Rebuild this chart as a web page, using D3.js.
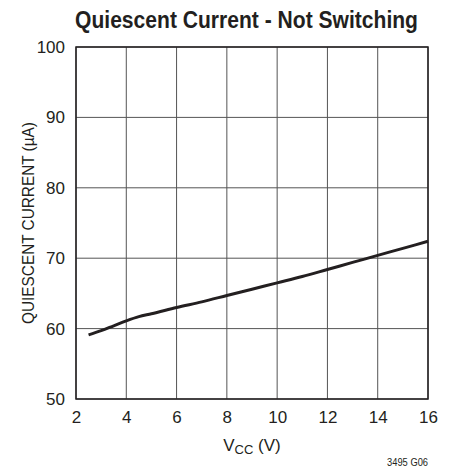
<!DOCTYPE html>
<html><head><meta charset="utf-8">
<script src="https://cdn.jsdelivr.net/npm/d3@7"></script>
<style>body{margin:0;background:#fff}svg{display:block}text{font-family:"Liberation Sans Narrow","Liberation Sans",Arial,sans-serif;fill:#231f20}</style>
</head><body>
<script>
const vcc = [2.5, 3, 3.5, 4, 4.5, 5, 6, 7, 8, 9, 10, 11, 12, 13, 14, 15, 16];
const iq  = [59.1, 59.7, 60.4, 61.1, 61.7, 62.1, 63.0, 63.8, 64.7, 65.6, 66.5, 67.4, 68.4, 69.4, 70.4, 71.4, 72.4];
const xTicks = [2, 4, 6, 8, 10, 12, 14, 16];
const yTicks = [50, 60, 70, 80, 90, 100];
const title = "Quiescent Current - Not Switching";
const yTitle = "QUIESCENT CURRENT (µA)";
const note = "3495 G06";

const W = 451, H = 470;
const m = {l: 76, r: 23, t: 47, b: 71};
const svg = d3.select("body").append("svg").attr("width", W).attr("height", H);
const x = d3.scaleLinear().domain([2, 16]).range([m.l, W - m.r]);
const y = d3.scaleLinear().domain([50, 100]).range([H - m.b, m.t]);

const g = svg.append("g");
// grid
g.selectAll(".vg").data(xTicks).join("line")
  .attr("x1", d => x(d)).attr("x2", d => x(d)).attr("y1", y(50)).attr("y2", y(100))
  .attr("stroke", "#555").attr("stroke-width", 1);
g.selectAll(".hg").data(yTicks).join("line")
  .attr("y1", d => y(d)).attr("y2", d => y(d)).attr("x1", x(2)).attr("x2", x(16))
  .attr("stroke", "#555").attr("stroke-width", 1);
// frame
g.append("rect").attr("x", x(2)).attr("y", y(100)).attr("width", x(16) - x(2)).attr("height", y(50) - y(100))
  .attr("fill", "none").attr("stroke", "#231f20").attr("stroke-width", 1.5);

// axes labels via d3 axes
const xa = svg.append("g").attr("transform", `translate(0,${y(50)})`)
  .call(d3.axisBottom(x).tickValues(xTicks).tickSize(0).tickPadding(12).tickFormat(d3.format("d")));
xa.select(".domain").remove();
xa.selectAll("text").attr("font-size", 17).attr("font-family", null);
const ya = svg.append("g").attr("transform", `translate(${x(2)},0)`)
  .call(d3.axisLeft(y).tickValues(yTicks).tickSize(0).tickPadding(11).tickFormat(d3.format("d")));
ya.select(".domain").remove();
ya.selectAll("text").attr("font-size", 17).attr("font-family", null);

// curve
const line = d3.line().x((d, i) => x(vcc[i])).y(d => y(d)).curve(d3.curveMonotoneX);
svg.append("path").datum(iq).attr("d", line).attr("fill", "none")
  .attr("stroke", "#231f20").attr("stroke-width", 3).attr("stroke-linecap", "butt");

// condensed text helper: scale horizontally to a target width
function condensed(sel, target) {
  const w = sel.node().getComputedTextLength();
  return Math.min(1, target / w);
}
// title
const tt = svg.append("text").attr("text-anchor", "middle")
  .attr("font-size", 24).attr("font-weight", "bold").text(title);
const ts = condensed(tt, 343);
tt.attr("transform", `translate(246.5,28) scale(${ts},1)`);
// x title
const xt = svg.append("text").attr("x", 252).attr("y", 451).attr("text-anchor", "middle").attr("font-size", 17);
xt.append("tspan").text("V");
xt.append("tspan").attr("font-size", 13).attr("dy", 3).text("CC");
xt.append("tspan").attr("dy", -3).text(" (V)");
// y title
const yt = svg.append("text").attr("text-anchor", "middle").attr("font-size", 17).text(yTitle);
const ys = condensed(yt, 202);
yt.attr("transform", `translate(34,${(y(50) + y(100)) / 2}) rotate(-90) scale(${ys},1)`);
// note
const nt = svg.append("text").attr("text-anchor", "end").attr("font-size", 11).text(note);
const ns = condensed(nt, 41);
nt.attr("transform", `translate(428,466) scale(${ns},1)`);
</script>
</body></html>
